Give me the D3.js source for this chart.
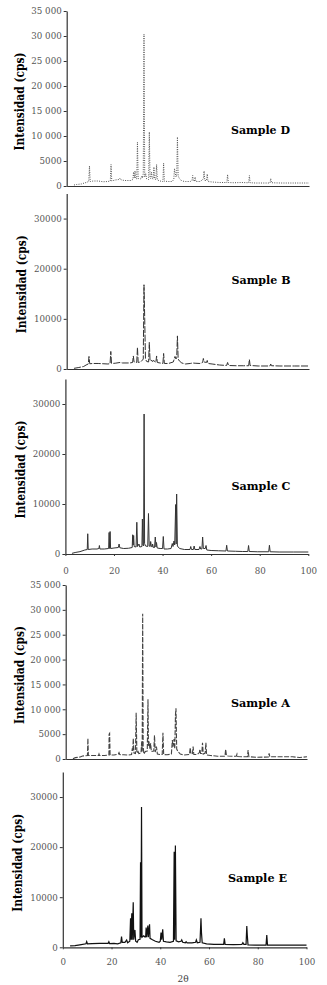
<!DOCTYPE html>
<html>
<head>
<meta charset="utf-8">
<title>DRX muestras</title>
<script src="https://d3js.org/d3.v7.min.js"></script>
<style>
  body { margin: 0; background: #fff; }
  svg text { font-family: "DejaVu Serif", "Liberation Serif", serif; }
</style>
</head>
<body>
<script>
// tick values
const yTicksFine = [0, 5000, 10000, 15000, 20000, 25000, 30000, 35000];
const yTicksCoarse = [0, 10000, 20000, 30000];
const xTicks = [0, 20, 40, 60, 80, 100];

// diffractograms, [2θ, cps]
const sampleD = [
  [3,200],[4,300],[6,400],[8,700],[9.1,900],[9.4,4000],[9.7,900],
  [11,1000],[13,1000],[15,850],[17,900],[18.0,1000],[18.3,4300],[18.6,1000],
  [20,1200],[21.5,1300],[22,1600],[22.5,1200],[24,1100],[26.5,1100],
  [27.3,1300],[27.6,2800],[27.9,1600],[28.2,3000],[28.5,1500],
  [28.9,1400],[29.2,8800],[29.5,1500],[30.5,1400],[31.0,2000],[31.3,1600],[31.6,2500],
  [31.9,30400],[32.2,1800],[32.6,2500],[33,1400],[33.8,1300],[34.1,10800],[34.4,1600],
  [34.7,1500],[35.0,2800],[35.3,1500],[35.7,1400],[36.0,3800],[36.3,1400],
  [36.8,1300],[37.1,4300],[37.4,1200],[38.5,1000],[39.7,900],[40.0,4600],[40.3,950],
  [42,900],[43.5,900],[44.2,1300],[44.5,3500],[44.8,2500],[45.1,1800],[45.4,2200],
  [45.7,9800],[46.0,2000],[46.5,1500],[47.5,1000],[49,900],[51,900],
  [51.7,1100],[52.0,2100],[52.3,1000],[52.7,1000],[53,1800],[53.3,900],
  [55,900],[56,1200],[56.4,1500],[56.7,3000],[57,1100],[57.7,1100],[58,2400],[58.3,900],
  [60,800],[63,700],[66.1,700],[66.4,2300],[66.7,700],[69,650],[72,700],
  [75.1,650],[75.4,2100],[75.7,650],[78,600],[83.9,600],[84.2,1500],[84.5,650],
  [88,600],[92,600],[96,600],[100,600]
];
const sampleB = [
  [3,130],[5,300],[7,500],[8,800],[8.9,1000],[9.2,2500],[9.5,1050],
  [11,1100],[13,1100],[15,1050],[17,1000],[17.9,1050],[18.2,3500],[18.5,1100],
  [20,1150],[22,1300],[23,1200],[26,1200],[27.2,1300],[27.5,2600],[27.8,1400],
  [28.9,1300],[29.2,4300],[29.5,1300],[30.5,1400],[31.3,1800],[31.6,2000],
  [31.9,16800],[32.2,10000],[32.5,2000],[33,1500],[33.8,1400],[34.1,5300],[34.4,1700],
  [34.8,1600],[35.0,1800],[35.3,1500],[36,1700],[36.5,1400],[36.8,1300],[37.1,2600],[37.4,1300],
  [38.5,1200],[39.7,1100],[40.0,3100],[40.3,1100],[42,1100],[44,1400],[44.7,2500],
  [45.1,2000],[45.4,2300],[45.7,6600],[46.0,2000],[46.5,1600],[47.5,1200],
  [49,1000],[51,1100],[52,1200],[53,1150],[55,1100],[56.1,1300],[56.4,2100],[56.7,1400],
  [57.7,1300],[58,1700],[58.3,1100],[60,1000],[63,800],[66,700],[66.4,1300],[66.8,700],
  [70,650],[73,650],[75.1,650],[75.4,1900],[75.7,700],[79,600],[83.9,600],[84.2,1000],[84.5,650],
  [88,600],[94,600],[100,600]
];
const sampleC = [
  [2.7,130],[4,300],[6,470],[8,800],[9.0,900],[9.2,4050],[9.4,900],
  [11,1000],[13,1000],[13.8,1100],[14,1700],[14.2,1000],[16,1000],
  [17.8,1100],[18.0,4300],[18.2,1100],[18.4,4500],[18.6,1100],
  [20,1200],[21.8,1300],[22.1,2000],[22.4,1250],[24,1100],[26,1150],
  [27.5,1300],[27.7,3850],[27.9,1800],[28.1,3700],[28.3,1500],
  [29.1,1400],[29.4,6350],[29.7,1500],[30.3,2000],[30.6,1400],
  [31.5,1500],[31.7,7000],[31.9,1800],[32.2,1600],[32.4,28000],[32.6,2100],[33,1600],
  [33.9,1500],[34.2,8100],[34.5,1600],[34.9,1500],[35.1,2500],[35.4,1500],
  [35.7,1400],[35.9,2000],[36.2,1300],[36.7,1300],[37.0,3400],[37.3,1400],[37.5,2300],[37.8,1200],
  [39,1100],[40.0,1100],[40.3,3500],[40.6,1000],[42,1000],[43.5,1100],[44.0,2100],[44.3,1500],
  [44.7,2600],[45.0,1800],[45.4,9900],[45.6,2000],[45.8,12000],[46.1,1600],[47,1100],
  [49,900],[51.3,900],[51.6,1500],[51.9,900],[52.7,900],[53.0,1600],[53.3,900],
  [55,900],[55.4,1500],[55.7,1000],[56.2,1000],[56.5,3400],[56.8,1100],[57.6,1100],[57.9,1700],[58.2,800],
  [60,700],[63,650],[66.1,600],[66.4,1750],[66.7,600],[70,550],[73,500],
  [75.1,500],[75.4,1700],[75.7,500],[79,450],[83.7,450],[84.0,1750],[84.3,450],
  [88,400],[94,400],[100,400]
];
const sampleA = [
  [3,70],[4,270],[6,400],[7,600],[9.0,700],[9.2,4150],[9.4,700],
  [11,700],[13.6,700],[13.8,1000],[14,700],[16,700],
  [17.9,800],[18.0,5000],[18.2,5160],[18.4,800],[20,800],[21.8,1000],[22.1,1300],[22.4,900],
  [24,850],[26,800],[27.3,900],[27.6,2150],[27.8,1500],[28.0,4150],[28.3,1200],
  [28.9,1100],[29.2,9300],[29.5,1200],[30,1500],[30.3,1100],
  [31.2,1200],[31.5,3500],[31.7,1500],[31.9,29200],[32.1,2500],[32.4,1000],[33,1500],
  [33.8,1600],[34.1,12000],[34.3,2500],[34.6,3500],[34.9,2000],[35.2,3150],[35.5,1500],
  [36.5,1600],[36.8,4760],[37.1,1400],[37.6,2500],[38,1000],
  [39,900],[40.0,900],[40.3,5300],[40.6,900],[42,850],[43.8,1000],[44.2,3800],[44.5,2500],
  [44.9,4000],[45.2,2000],[45.5,9000],[45.7,10200],[46.0,2000],[46.5,1500],[47.5,1000],
  [49,800],[51.3,900],[51.6,2280],[51.9,1000],[52.5,1100],[52.8,2480],[53.1,900],
  [54.5,900],[55.4,1300],[55.6,1950],[55.9,1100],[56.4,1100],[56.7,3280],[57.0,1000],
  [57.8,1200],[58.1,3280],[58.4,800],[60,700],[63,550],[66.0,550],[66.3,1950],[66.6,700],[67.3,600],
  [70,550],[70.7,550],[71,1000],[71.3,500],[73,450],[75.3,450],[75.6,1800],[75.9,450],
  [79,350],[84.0,400],[84.3,1140],[84.6,450],[88,450],[94,450],[97,300],[100,450]
];
const sampleE = [
  [3,270],[5,350],[7,500],[9.5,700],[9.8,1130],[10.1,700],
  [12,750],[15,800],[18.6,800],[18.9,1100],[19.2,750],
  [21,800],[22.5,700],[23.8,900],[24.1,2130],[24.4,1000],[25.5,1000],[26.2,1470],[26.6,900],
  [27.5,1200],[27.8,5800],[28.0,1500],[28.3,6800],[28.5,1500],[28.9,9000],[29.1,1500],
  [29.6,3470],[29.9,1200],[30.5,1000],[31,1500],[31.7,1600],[31.9,17000],[32.1,2000],
  [32.3,28000],[32.5,2000],[33.2,2300],[33.6,2100],[34.0,2100],[34.2,3930],[34.4,2000],
  [34.9,4330],[35.1,2000],[35.6,4600],[35.8,1800],[36.8,1500],[38,1200],[39.5,1000],
  [40.0,1200],[40.3,2930],[40.6,1500],[41.0,3600],[41.3,1200],[42.5,1100],[44,1000],
  [45.4,1200],[45.7,19100],[45.9,1500],[46.2,20300],[46.5,1300],[47.5,1100],
  [48.5,1200],[48.8,1470],[49.2,1000],[50.3,900],[50.6,1130],[51,900],[53,900],
  [54.5,1000],[54.8,1470],[55.2,900],[56.3,1000],[56.7,5800],[56.9,2930],[57.2,900],
  [59,700],[62,600],[66.0,600],[66.3,1800],[66.6,600],[70,550],[73.5,600],[73.9,930],[74.3,600],
  [75.2,600],[75.5,4270],[75.7,2470],[76,500],[79,450],[83.4,450],[83.7,2470],[84,450],
  [86,450],[90,450],[95,450],[100,450]
];

const sampleNames = ["Sample D", "Sample B", "Sample C", "Sample A", "Sample E"];
const sampleSeries = [sampleD, sampleB, sampleC, sampleA, sampleE];

// layout of each stacked panel (pixel positions on the page)
const panels = [
  {y0: 186, yTop: 11,  x0: 66.7, x100: 309, fine: true,  xLabels: false, dash: "1,1.3", stroke: "#555", sw: 1,   titleX: 20, labelX: 231, labelY: 134},
  {y0: 369, yTop: 193.5, x0: 66.7, x100: 309, fine: false, xLabels: false, dash: "7,1.5", stroke: "#333", sw: 1, titleX: 21.5, labelX: 231.5, labelY: 284},
  {y0: 554, yTop: 379, x0: 65.4, x100: 308.3, fine: false, xLabels: true, dash: null, stroke: "#333", sw: 1, titleX: 21, labelX: 231.5, labelY: 490},
  {y0: 759, yTop: 585, x0: 65.7, x100: 307, fine: true,  xLabels: false, dash: "5,1.5", stroke: "#444", sw: 1.1, titleX: 20, labelX: 231, labelY: 707},
  {y0: 947.3, yTop: 772, x0: 62.8, x100: 306.5, fine: false, xLabels: true, dash: null, stroke: "#111", sw: 1.2, titleX: 17.5, labelX: 228, labelY: 882}
];

const svg = d3.select("body").append("svg")
  .attr("width", 327)
  .attr("height", 985);

const fmtFine = d => d >= 10000 ? d3.format(",")(d).replace(",", " ") : String(d);

panels.forEach((p, i) => {
  const x = d3.scaleLinear().domain([0, 100]).range([p.x0, p.x100]);
  const y = d3.scaleLinear().domain([0, 35000]).range([p.y0, p.yTop]);
  const g = svg.append("g");

  const yAxis = g.append("g")
    .attr("transform", `translate(${p.x0},0)`)
    .call(d3.axisLeft(y)
      .tickValues(p.fine ? yTicksFine : yTicksCoarse)
      .tickFormat(p.fine ? fmtFine : d3.format("d"))
      .tickSize(3).tickSizeOuter(0).tickPadding(2));

  const xAxis = g.append("g")
    .attr("transform", `translate(0,${p.y0})`)
    .call(d3.axisBottom(x)
      .tickValues(xTicks)
      .tickFormat(p.xLabels ? d3.format("d") : "")
      .tickSize(p.xLabels ? 2 : 0).tickSizeOuter(0).tickPadding(i === 4 ? 10 : 12));

  [yAxis, xAxis].forEach(a => {
    a.select(".domain").attr("stroke", "#333").attr("stroke-width", 1.2);
    a.selectAll(".tick line").attr("stroke", "#333");
    a.selectAll(".tick text")
      .attr("fill", "#555")
      .style("font-size", "8.7px")
      .style("font-family", "DejaVu Serif, serif");
  });

  const line = d3.line().x(d => x(d[0])).y(d => y(d[1]));
  g.append("path")
    .datum(sampleSeries[i])
    .attr("fill", "none")
    .attr("stroke", p.stroke)
    .attr("stroke-width", p.sw)
    .attr("stroke-dasharray", p.dash)
    .attr("d", line);

  // y title
  g.append("text")
    .attr("transform", `translate(${p.titleX},${(p.y0 + p.yTop) / 2 + 3}) rotate(-90)`)
    .attr("text-anchor", "middle")
    .attr("dy", "0.35em")
    .attr("textLength", 98)
    .attr("lengthAdjust", "spacingAndGlyphs")
    .style("font-family", "DejaVu Serif, serif")
    .style("font-weight", "bold")
    .style("font-size", "12px")
    .text("Intensidad (cps)");

  g.append("text")
    .attr("x", p.labelX)
    .attr("y", p.labelY)
    .attr("textLength", 59)
    .attr("lengthAdjust", "spacingAndGlyphs")
    .style("font-family", "DejaVu Serif, serif")
    .style("font-weight", "bold")
    .style("font-size", "11px")
    .text(sampleNames[i]);
});

svg.append("text")
  .attr("x", 183)
  .attr("y", 982)
  .attr("text-anchor", "middle")
  .attr("fill", "#444")
  .style("font-size", "9px")
  .text("2θ");
</script>
</body>
</html>
